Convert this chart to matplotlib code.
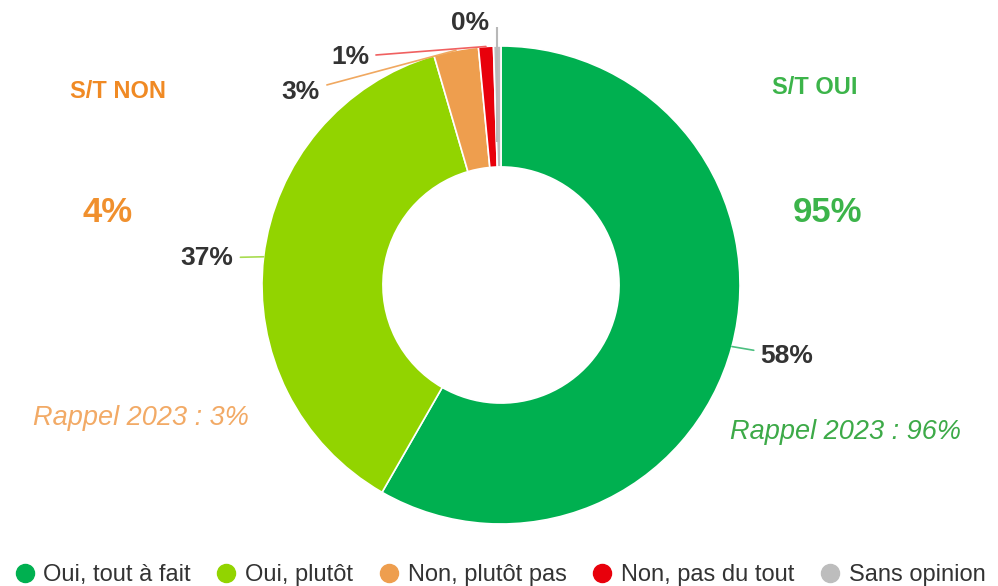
import numpy as np
import matplotlib.pyplot as plt
from matplotlib.lines import Line2D

plt.rcParams['font.family'] = ['Liberation Sans', 'DejaVu Sans']

# data
categories = ["Oui, tout à fait", "Oui, plutôt", "Non, plutôt pas", "Non, pas du tout", "Sans opinion"]
values = [58, 37, 3, 1, 0.5]
value_labels = ["58%", "37%", "3%", "1%", "0%"]
colors = ["#00B050", "#92D400", "#EE9E4E", "#E8000B", "#BDBDBD"]
leader_colors = ["#4CBF80", "#A8DC50", "#F0A860", "#F06060", "#B8B8B8"]

summary_non = ["S/T NON", "4%", "Rappel 2023 : 3%"]
summary_oui = ["S/T OUI", "95%", "Rappel 2023 : 96%"]

W, H = 998, 586
fig = plt.figure(figsize=(W / 100, H / 100), dpi=100)

# donut centre and radius in pixels
cx, cy, R = 501, 285, 239
half = R * 1.25
ax = fig.add_axes([(cx - half) / W, (H - cy - half) / H, 2 * half / W, 2 * half / H])
ax.set_xlim(-1.25, 1.25)
ax.set_ylim(-1.25, 1.25)
ax.set_aspect('equal')
ax.axis('off')

wedges, _ = ax.pie(values, colors=colors, startangle=90, counterclock=False,
                   radius=1.0, wedgeprops=dict(width=0.506, edgecolor='white', linewidth=1.2))

# label positions (data coords, relative to donut radius)
text_pos = [(1.197, -0.297), (-1.23, 0.113), (-0.837, 0.808), (-0.632, 0.954), (-0.13, 1.095)]
for i, (w, lab, pos, lc) in enumerate(zip(wedges, value_labels, text_pos, leader_colors)):
    ang = np.deg2rad((w.theta1 + w.theta2) / 2)
    x0, y0 = np.cos(ang), np.sin(ang)
    if i == len(wedges) - 1:
        # the tiny slice gets a straight vertical leader
        ax.plot([x0, x0], [0.6, 1.08], color=lc, lw=1.5, solid_capstyle='butt', clip_on=False)
        ax.text(pos[0], pos[1], lab, ha='center', va='center',
                fontsize=19, fontweight='bold', color='#333333')
        continue
    ax.annotate(lab, xy=(x0, y0), xytext=pos, ha='center', va='center',
                fontsize=19, fontweight='bold', color='#333333',
                arrowprops=dict(arrowstyle='-', color=lc, lw=1.2, shrinkA=3, shrinkB=0),
                annotation_clip=False)

# side summaries
orange = "#F08A24"
fig.text(118 / W, 1 - 92 / H, summary_non[0], ha='center', va='center',
         fontsize=17, fontweight='bold', color=orange)
fig.text(108 / W, 1 - 212 / H, summary_non[1], ha='center', va='center',
         fontsize=25, fontweight='bold', color="#F0902E")
fig.text(141 / W, 1 - 418 / H, summary_non[2], ha='center', va='center',
         fontsize=19.5, fontstyle='italic', color="#F2AA66")

green = "#3CB44A"
fig.text(815 / W, 1 - 88 / H, summary_oui[0], ha='center', va='center',
         fontsize=17, fontweight='bold', color=green)
fig.text(827 / W, 1 - 212 / H, summary_oui[1], ha='center', va='center',
         fontsize=25, fontweight='bold', color=green)
fig.text(845 / W, 1 - 432 / H, summary_oui[2], ha='center', va='center',
         fontsize=19.5, fontstyle='italic', color="#3DAA48")

# legend with round markers
handles = [Line2D([], [], marker='o', linestyle='none', markersize=13,
                  markerfacecolor=c, markeredgecolor=c) for c in colors]
fig.legend(handles, categories, loc='center', bbox_to_anchor=(0.5, 11 / H), ncol=5,
           frameon=False, fontsize=17, handletextpad=0.3, columnspacing=1.0,
           handlelength=1.0, labelcolor='#333333', borderaxespad=0)

fig.savefig("out.png", dpi=100, facecolor='white')
